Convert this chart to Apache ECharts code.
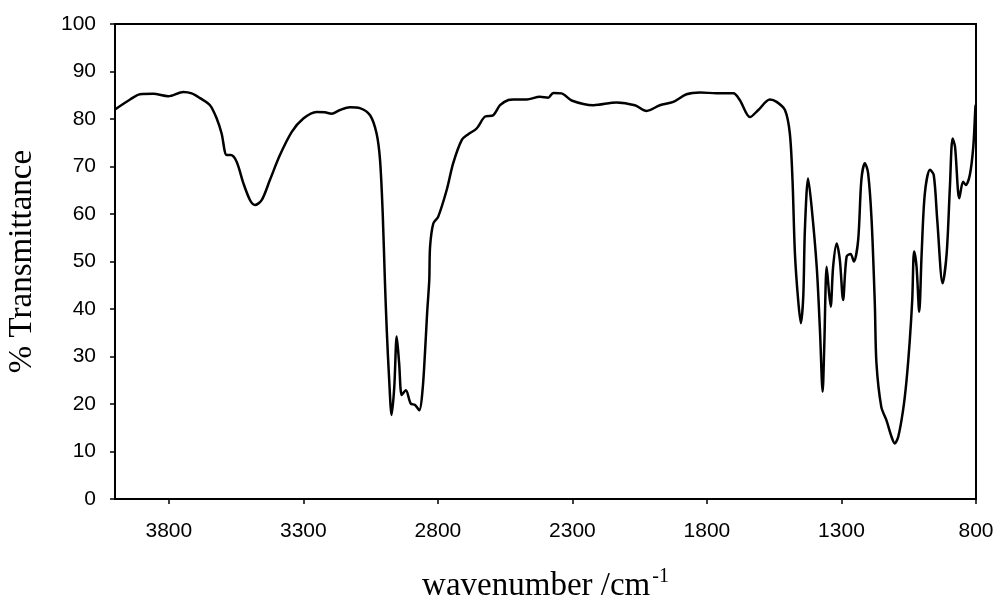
<!DOCTYPE html>
<html>
<head>
<meta charset="utf-8">
<script src="https://cdn.jsdelivr.net/npm/echarts@6/dist/echarts.min.js"></script>
<style>
  html, body { margin: 0; padding: 0; background: #fff; }
  #irChart { width: 1000px; height: 597px; }
</style>
</head>
<body>
<div id="irChart"></div>
<script>
// wavenumber (cm-1) and % transmittance
var wavenumbers = [
  4000, 3944, 3907, 3858, 3802, 3746, 3715, 3684, 3647, 3622, 3604, 3585, 3570, 3548, 3523, 3498, 3480, 3455, 3424, 3387,
  3343, 3300, 3251, 3220, 3195, 3164, 3127, 3090, 3052, 3028, 3015, 3005, 2997, 2990, 2981, 2972, 2962, 2953, 2944, 2934,
  2919, 2901, 2885, 2869, 2857, 2848, 2840, 2832, 2829, 2817, 2799, 2767, 2743, 2711, 2687, 2656, 2625, 2594, 2569, 2538,
  2520, 2470, 2421, 2390, 2371, 2340, 2303, 2222, 2136, 2068, 2024, 1975, 1925, 1876, 1826, 1764, 1702, 1678, 1640, 1609,
  1566, 1541, 1510, 1492, 1482, 1473, 1461, 1451, 1442, 1436, 1424, 1411, 1392, 1380, 1370, 1364, 1355, 1346, 1340, 1331,
  1318, 1306, 1294, 1281, 1266, 1254, 1238, 1226, 1213, 1201, 1188, 1176, 1170, 1152, 1133, 1114, 1102, 1089, 1071, 1058,
  1046, 1037, 1030, 1021, 1011, 1002, 990, 971, 957, 944, 924, 909, 897, 887, 878, 862, 848, 838, 823, 810,
  802, 800
];
var transmittance = [
  82.0, 84.1, 85.2, 85.3, 84.8, 85.7, 85.4, 84.4, 82.9, 80.1, 77.0, 72.4, 72.4, 71.0, 66.5, 62.9, 61.9, 62.9, 67.2, 72.4,
  77.3, 80.1, 81.5, 81.4, 81.1, 81.9, 82.5, 82.3, 80.8, 77.0, 71.4, 60.1, 46.1, 35.6, 25.1, 17.7, 23.6, 34.2, 28.6, 21.9,
  22.9, 20.1, 19.8, 18.7, 22.9, 30.7, 39.1, 46.1, 53.1, 58.0, 59.4, 65.1, 70.7, 75.6, 76.8, 78.0, 80.5, 80.8, 82.9, 84.0,
  84.1, 84.1, 84.7, 84.5, 85.5, 85.4, 83.9, 82.9, 83.5, 82.9, 81.7, 82.9, 83.6, 85.2, 85.6, 85.4, 85.4, 84.0, 80.4, 81.9,
  84.1, 83.6, 81.9, 77.0, 67.2, 51.7, 41.9, 37.0, 42.6, 56.6, 67.5, 61.5, 48.9, 35.6, 22.6, 32.1, 48.9, 43.3, 40.5, 48.9,
  53.8, 50.3, 41.9, 51.0, 51.6, 50.0, 54.5, 67.2, 70.7, 68.6, 58.7, 41.0, 28.6, 19.4, 16.6, 13.1, 11.7, 13.1, 18.7, 25.1,
  33.5, 41.9, 52.1, 48.9, 39.4, 51.7, 64.4, 69.3, 68.2, 58.7, 45.4, 51.7, 65.7, 75.9, 74.2, 63.3, 66.8, 66.1, 68.2, 74.2,
  82.6, 83.0
];
var xTicks = [3800, 3300, 2800, 2300, 1800, 1300, 800];

var spectrum = wavenumbers.map(function (w, i) { return [w, transmittance[i]]; });

var irChart = echarts.init(document.getElementById('irChart'));
irChart.setOption({
  animation: false,
  grid: {
    left: 115, right: 24, top: 24, bottom: 98,
    outerBoundsMode: 'none',
    show: true,
    borderColor: '#000',
    borderWidth: 2
  },
  xAxis: {
    type: 'value',
    min: 800,
    max: 4000,
    inverse: true,
    name: '{t|wavenumber /cm}{s|-1}',
    nameLocation: 'middle',
    nameGap: 68,
    nameTextStyle: {
      rich: {
        t: { fontFamily: 'Liberation Serif', fontSize: 33, color: '#000' },
        s: { fontFamily: 'Liberation Serif', fontSize: 20, color: '#000', verticalAlign: 'top', padding: [0, 0, 18, 2] }
      }
    },
    axisLine: { lineStyle: { color: '#000', width: 2 } },
    axisTick: { length: 5, lineStyle: { color: '#000', width: 1.5 }, customValues: xTicks },
    axisLabel: {
      customValues: xTicks,
      margin: 22,
      fontFamily: 'Liberation Sans',
      fontSize: 21,
      color: '#000',
      formatter: function (v) { return String(v); }
    },
    splitLine: { show: false }
  },
  yAxis: {
    type: 'value',
    min: 0,
    max: 100,
    interval: 10,
    name: '% Transmittance',
    nameLocation: 'middle',
    nameRotate: 90,
    nameGap: 76,
    nameTextStyle: { fontFamily: 'Liberation Serif', fontSize: 33, color: '#000' },
    axisLine: { show: true, lineStyle: { color: '#000', width: 2 } },
    axisTick: { show: true, length: 5, lineStyle: { color: '#000', width: 1.5 } },
    axisLabel: {
      margin: 19,
      fontFamily: 'Liberation Sans',
      fontSize: 21,
      color: '#000'
    },
    splitLine: { show: false }
  },
  series: [
    {
      type: 'line',
      data: spectrum,
      showSymbol: false,
      smooth: 0.3,
      lineStyle: { color: '#000', width: 2.5 }
    }
  ]
});
</script>
</body>
</html>
